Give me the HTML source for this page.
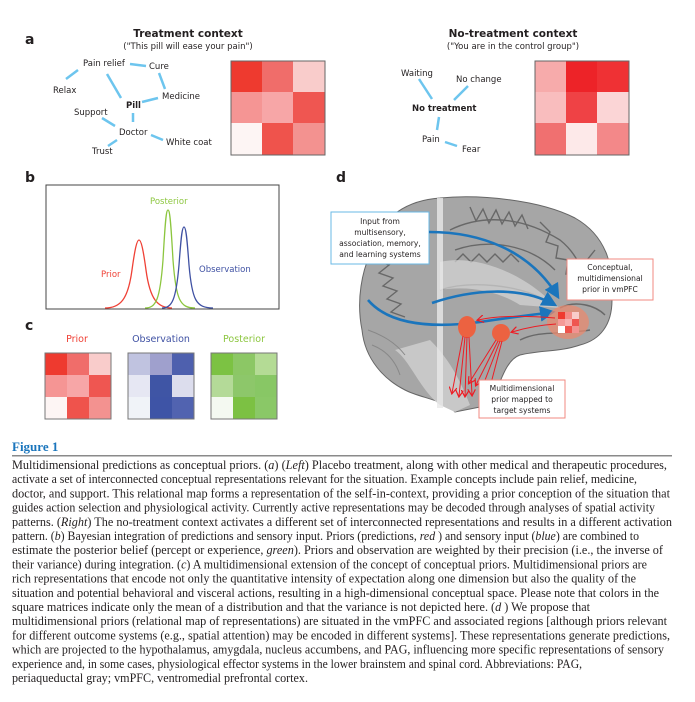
<!DOCTYPE html>
<html><head><meta charset="utf-8"><style>
html,body{margin:0;padding:0;background:#fff;}
svg{display:block;}
.s{font-family:"DejaVu Sans","Liberation Sans",sans-serif;}
.c{font-family:"Liberation Serif",serif;font-size:12.3px;fill:#231f20;}
</style></head><body>
<svg width="695" height="702" viewBox="0 0 695 702" xmlns="http://www.w3.org/2000/svg">
<defs>
<marker id="ab" markerWidth="6" markerHeight="6" refX="5" refY="3" orient="auto" markerUnits="strokeWidth"><path d="M0,0 L6,3 L0,6 z" fill="#1b75bc"/></marker>
<marker id="ar" markerWidth="8" markerHeight="8" refX="6" refY="4" orient="auto" markerUnits="strokeWidth"><path d="M0,0 L7,4 L0,8" fill="none" stroke="#ed1c24" stroke-width="1.2"/></marker>
</defs>
<g class="s">
<text x="25" y="44" font-size="14" font-weight="bold" fill="#231f20">a</text>
<text x="188" y="37" font-size="10.5" font-weight="bold" text-anchor="middle" fill="#231f20">Treatment context</text>
<text x="188" y="49" font-size="8.5" text-anchor="middle" fill="#231f20">("This pill will ease your pain")</text>
<g stroke="#6dc5ee" stroke-width="2.5">
<line x1="130" y1="64" x2="146" y2="66"/><line x1="159" y1="73" x2="165" y2="89"/>
<line x1="78" y1="70" x2="66" y2="79"/><line x1="107" y1="74" x2="121" y2="98"/>
<line x1="142" y1="102" x2="158" y2="98"/><line x1="133" y1="113" x2="133" y2="122"/>
<line x1="102" y1="118" x2="115" y2="126"/><line x1="151" y1="135" x2="163" y2="140"/>
<line x1="117" y1="140" x2="108" y2="146"/>
</g>
<g font-size="8.5" fill="#231f20">
<text x="83" y="66">Pain relief</text><text x="149" y="69">Cure</text>
<text x="53" y="93">Relax</text><text x="162" y="99">Medicine</text>
<text x="126" y="108" font-weight="bold">Pill</text><text x="74" y="115">Support</text>
<text x="119" y="135">Doctor</text><text x="166" y="145">White coat</text>
<text x="92" y="154">Trust</text>
</g>
<g transform="translate(231,61)">
<rect x="0" y="0" width="32" height="32" fill="#ee3a2f"/><rect x="31" y="0" width="32" height="32" fill="#f06d6a"/><rect x="62" y="0" width="32" height="32" fill="#f9cccb"/>
<rect x="0" y="31" width="32" height="32" fill="#f59594"/><rect x="31" y="31" width="32" height="32" fill="#f7a6a7"/><rect x="62" y="31" width="32" height="32" fill="#ef5651"/>
<rect x="0" y="62" width="32" height="32" fill="#fdf5f4"/><rect x="31" y="62" width="32" height="32" fill="#ef534c"/><rect x="62" y="62" width="32" height="32" fill="#f39290"/>
<rect x="0" y="0" width="94" height="94" fill="none" stroke="#666" stroke-width="1"/>
</g>
<text x="513" y="37" font-size="10.5" font-weight="bold" text-anchor="middle" fill="#231f20">No-treatment context</text>
<text x="513" y="49" font-size="8.5" text-anchor="middle" fill="#231f20">("You are in the control group")</text>
<g stroke="#6dc5ee" stroke-width="2.5">
<line x1="419" y1="79" x2="432" y2="99"/><line x1="468" y1="86" x2="454" y2="100"/>
<line x1="439" y1="117" x2="437" y2="130"/><line x1="445" y1="142" x2="457" y2="146"/>
</g>
<g font-size="8.5" fill="#231f20">
<text x="401" y="76">Waiting</text><text x="456" y="82">No change</text>
<text x="412" y="111" font-weight="bold">No treatment</text>
<text x="422" y="142">Pain</text><text x="462" y="152">Fear</text>
</g>
<g transform="translate(535,61)">
<rect x="0" y="0" width="32" height="32" fill="#f7abab"/><rect x="31" y="0" width="32" height="32" fill="#ed2328"/><rect x="62" y="0" width="32" height="32" fill="#ef3134"/>
<rect x="0" y="31" width="32" height="32" fill="#f9bdbe"/><rect x="31" y="31" width="32" height="32" fill="#ef4245"/><rect x="62" y="31" width="32" height="32" fill="#fbd5d6"/>
<rect x="0" y="62" width="32" height="32" fill="#f07070"/><rect x="31" y="62" width="32" height="32" fill="#fde9e9"/><rect x="62" y="62" width="32" height="32" fill="#f38889"/>
<rect x="0" y="0" width="94" height="94" fill="none" stroke="#666" stroke-width="1"/>
</g>
<text x="25" y="182" font-size="14" font-weight="bold" fill="#231f20">b</text>
<rect x="46" y="185" width="233" height="124" fill="none" stroke="#444" stroke-width="1"/>
<path fill="none" stroke="#ef4136" stroke-width="1.3" d="M105,308 C120,308 128,300 132,270 C135,248 137,240 139,240 C141,240 143,248 146,270 C150,300 158,308 172,308"/>
<path fill="none" stroke="#8cc63f" stroke-width="1.3" d="M145,308 C156,308 160,300 163,260 C165,225 166,210 168,210 C170,210 171,225 173,260 C176,300 180,308 195,308"/>
<path fill="none" stroke="#3f51a3" stroke-width="1.3" d="M162,308 C172,308 176,300 179,265 C181,238 182,227 184,227 C186,227 187,238 189,265 C192,300 196,308 213,308"/>
<text x="150" y="204" font-size="8.5" fill="#8cc63f">Posterior</text>
<text x="101" y="277" font-size="8.5" fill="#ef4136">Prior</text>
<text x="199" y="272" font-size="8.5" fill="#3f51a3">Observation</text>
<text x="25" y="330" font-size="14" font-weight="bold" fill="#231f20">c</text>
<text x="77" y="342" font-size="9.5" text-anchor="middle" fill="#ef4136">Prior</text>
<text x="161" y="342" font-size="9.5" text-anchor="middle" fill="#3f51a3">Observation</text>
<text x="244" y="342" font-size="9.5" text-anchor="middle" fill="#8cc63f">Posterior</text>
<g transform="translate(45,353)">
<rect x="0" y="0" width="23" height="23" fill="#ee3a2f"/><rect x="22" y="0" width="23" height="23" fill="#f06d6a"/><rect x="44" y="0" width="22" height="23" fill="#f9cccb"/>
<rect x="0" y="22" width="23" height="23" fill="#f59594"/><rect x="22" y="22" width="23" height="23" fill="#f7a6a7"/><rect x="44" y="22" width="22" height="23" fill="#ef5651"/>
<rect x="0" y="44" width="23" height="22" fill="#fdf5f4"/><rect x="22" y="44" width="23" height="22" fill="#ef534c"/><rect x="44" y="44" width="22" height="22" fill="#f39290"/>
<rect width="66" height="66" fill="none" stroke="#777"/></g>
<g transform="translate(128,353)">
<rect x="0" y="0" width="23" height="23" fill="#c0c3e0"/><rect x="22" y="0" width="23" height="23" fill="#9fa0cd"/><rect x="44" y="0" width="22" height="23" fill="#4e60ae"/>
<rect x="0" y="22" width="23" height="23" fill="#e6e7f3"/><rect x="22" y="22" width="23" height="23" fill="#3f55a5"/><rect x="44" y="22" width="22" height="23" fill="#dcdded"/>
<rect x="0" y="44" width="23" height="22" fill="#f0f3f8"/><rect x="22" y="44" width="23" height="22" fill="#3e54a6"/><rect x="44" y="44" width="22" height="22" fill="#5163b0"/>
<rect width="66" height="66" fill="none" stroke="#777"/></g>
<g transform="translate(211,353)">
<rect x="0" y="0" width="23" height="23" fill="#7cc243"/><rect x="22" y="0" width="23" height="23" fill="#8cc765"/><rect x="44" y="0" width="22" height="23" fill="#b4db95"/>
<rect x="0" y="22" width="23" height="23" fill="#b4da98"/><rect x="22" y="22" width="23" height="23" fill="#8dc76a"/><rect x="44" y="22" width="22" height="23" fill="#88c765"/>
<rect x="0" y="44" width="23" height="22" fill="#f4f9f1"/><rect x="22" y="44" width="23" height="22" fill="#7cc143"/><rect x="44" y="44" width="22" height="22" fill="#8ac867"/>
<rect width="66" height="66" fill="none" stroke="#777"/></g>
<text x="336" y="182" font-size="14" font-weight="bold" fill="#231f20">d</text>
<path d="M372,250 C380,215 410,200 440,198 C480,194 540,200 575,218 C605,235 615,265 612,300 C612,325 600,340 580,345 C560,352 540,350 520,355 C505,360 500,385 490,405 L455,412 C445,400 420,398 405,390 C385,380 365,360 362,330 C356,300 362,270 372,250 Z" fill="#a6a6a6" stroke="#666" stroke-width="1"/>
<g fill="none" stroke="#5e5e5e" stroke-width="1.4" opacity="0.85">
<path d="M450,230 C480,215 520,215 560,240 C575,252 585,270 585,290"/>
<path d="M455,250 C490,238 530,245 555,270"/>
<path d="M440,290 C470,280 520,285 545,300"/>
<path d="M470,207 l6,14 l7,-12 l6,14 l7,-13 l6,14 l7,-12 l6,14 l7,-11 l6,14"/>
<path d="M540,222 l10,10 l-4,10 l12,4 l-2,12 l12,2 l-2,14 l10,0"/>
<path d="M455,262 l8,-8 l8,8 l8,-8 l8,8 l8,-8 l8,8 l8,-8 l8,8"/>
<path d="M375,260 l14,5 l-10,8 l14,5 l-10,8 l14,5 l-10,8 l14,5 l-10,8 l14,5"/>
<path d="M410,215 l6,15 l6,-12 l-4,20 l10,-6 l-4,18"/>
<path d="M395,230 l8,8 l-6,8 l10,6 l-6,10"/>
<path d="M595,250 l-8,10 l10,6 l-10,8 l10,8"/>
<path d="M520,340 C540,330 560,335 590,330"/>
<path d="M560,308 C575,300 595,305 605,315"/>
</g>
<path d="M440,262 C470,255 510,268 540,292 C550,300 555,305 560,308 L520,305 C500,292 470,285 440,290 Z" fill="#d6d6d6" opacity="0.7"/>
<path d="M395,350 C410,360 420,390 440,405 L455,412 L470,405 C460,380 450,360 430,340 Z" fill="#c8c8c8"/>
<g fill="none" stroke="#888" stroke-width="1"><path d="M372,345 C385,350 395,360 400,375"/><path d="M368,330 C382,335 395,342 405,355"/></g>
<rect x="437" y="198" width="6" height="210" fill="#e8e8e8" opacity="0.8"/>
<rect x="331" y="212" width="98" height="52" fill="#fff" stroke="#6ab8e6" stroke-width="1"/>
<g font-size="7.6" fill="#231f20" text-anchor="middle">
<text x="380" y="224">Input from</text><text x="380" y="235">multisensory,</text>
<text x="380" y="246">association, memory,</text><text x="380" y="257">and learning systems</text>
</g>
<g fill="none" stroke="#1b75bc" stroke-width="2.6">
<path d="M429,232 C480,232 530,250 558,297" marker-end="url(#ab)"/>
<path d="M432,303 C470,290 520,285 555,305" marker-end="url(#ab)"/>
<path d="M368,300 C385,320 420,330 480,322 C520,316 540,314 553,312" marker-end="url(#ab)"/>
</g>
<ellipse cx="568" cy="322" rx="21" ry="17" fill="#e8896f" opacity="0.75"/>
<g transform="translate(558,312)">
<rect width="7" height="7" fill="#ef3a2f"/><rect x="7" width="7" height="7" fill="#f38a85"/><rect x="14" width="7" height="7" fill="#f9cccb"/>
<rect y="7" width="7" height="7" fill="#f49a98"/><rect x="7" y="7" width="7" height="7" fill="#f7b0b0"/><rect x="14" y="7" width="7" height="7" fill="#ef5651"/>
<rect y="14" width="7" height="7" fill="#fff"/><rect x="7" y="14" width="7" height="7" fill="#ef534c"/><rect x="14" y="14" width="7" height="7" fill="#f39290"/>
</g>
<ellipse cx="467" cy="327" rx="9" ry="11" fill="#ec6241"/>
<ellipse cx="501" cy="333" rx="9" ry="9" fill="#ec6241"/>
<g fill="none" stroke="#ed1c24" stroke-width="1">
<path d="M555,318 C530,316 500,315 478,320" marker-end="url(#ar)"/>
<path d="M556,324 C540,325 525,328 512,332" marker-end="url(#ar)"/>
<path d="M463,336 L452,393" marker-end="url(#ar)"/><path d="M465,337 L459,396" marker-end="url(#ar)"/>
<path d="M467,337 L465,396" marker-end="url(#ar)"/><path d="M469,337 L472,395" marker-end="url(#ar)"/>
<path d="M496,340 L469,383" marker-end="url(#ar)"/><path d="M498,341 L476,385" marker-end="url(#ar)"/>
<path d="M500,341 L482,388" marker-end="url(#ar)"/><path d="M502,341 L489,391" marker-end="url(#ar)"/>
</g>
<rect x="567" y="259" width="86" height="41" fill="#fff" stroke="#f08a80" stroke-width="1"/>
<g font-size="7.6" fill="#231f20" text-anchor="middle">
<text x="610" y="270">Conceptual,</text><text x="610" y="281">multidimensional</text><text x="610" y="292">prior in vmPFC</text>
</g>
<rect x="479" y="380" width="86" height="38" fill="#fff" stroke="#f08a80" stroke-width="1"/>
<g font-size="7.6" fill="#231f20" text-anchor="middle">
<text x="522" y="391">Multidimensional</text><text x="522" y="402">prior mapped to</text><text x="522" y="413">target systems</text>
</g>
</g>
<text x="12" y="451" font-family="Liberation Serif,serif" font-size="13" font-weight="bold" fill="#1a75bc">Figure 1</text>
<rect x="12" y="455" width="660" height="1.5" fill="#8a8a8a"/>
<g class="c">
<text x="12" y="469" textLength="655" lengthAdjust="spacingAndGlyphs">Multidimensional predictions as conceptual priors. (<tspan font-style="italic">a</tspan>) (<tspan font-style="italic">Left</tspan>) Placebo treatment, along with other medical and therapeutic procedures,</text>
<text x="12" y="483.2" textLength="625" lengthAdjust="spacingAndGlyphs">activate a set of interconnected conceptual representations relevant for the situation. Example concepts include pain relief, medicine,</text>
<text x="12" y="497.4" textLength="658" lengthAdjust="spacingAndGlyphs">doctor, and support. This relational map forms a representation of the self-in-context, providing a prior conception of the situation that</text>
<text x="12" y="511.6" textLength="643" lengthAdjust="spacingAndGlyphs">guides action selection and physiological activity. Currently active representations may be decoded through analyses of spatial activity</text>
<text x="12" y="525.8" textLength="660" lengthAdjust="spacingAndGlyphs">patterns. (<tspan font-style="italic">Right</tspan>) The no-treatment context activates a different set of interconnected representations and results in a different activation</text>
<text x="12" y="540" textLength="627" lengthAdjust="spacingAndGlyphs">pattern. (<tspan font-style="italic">b</tspan>) Bayesian integration of predictions and sensory input. Priors (predictions, <tspan font-style="italic">red</tspan> ) and sensory input (<tspan font-style="italic">blue</tspan>) are combined to</text>
<text x="12" y="554.2" textLength="651" lengthAdjust="spacingAndGlyphs">estimate the posterior belief (percept or experience, <tspan font-style="italic">green</tspan>). Priors and observation are weighted by their precision (i.e., the inverse of</text>
<text x="12" y="568.4" textLength="635" lengthAdjust="spacingAndGlyphs">their variance) during integration. (<tspan font-style="italic">c</tspan>) A multidimensional extension of the concept of conceptual priors. Multidimensional priors are</text>
<text x="12" y="582.6" textLength="624" lengthAdjust="spacingAndGlyphs">rich representations that encode not only the quantitative intensity of expectation along one dimension but also the quality of the</text>
<text x="12" y="596.8" textLength="647" lengthAdjust="spacingAndGlyphs">situation and potential behavioral and visceral actions, resulting in a high-dimensional conceptual space. Please note that colors in the</text>
<text x="12" y="611" textLength="578" lengthAdjust="spacingAndGlyphs">square matrices indicate only the mean of a distribution and that the variance is not depicted here. (<tspan font-style="italic">d</tspan> ) We propose that</text>
<text x="12" y="625.2" textLength="655" lengthAdjust="spacingAndGlyphs">multidimensional priors (relational map of representations) are situated in the vmPFC and associated regions [although priors relevant</text>
<text x="12" y="639.4" textLength="658" lengthAdjust="spacingAndGlyphs">for different outcome systems (e.g., spatial attention) may be encoded in different systems]. These representations generate predictions,</text>
<text x="12" y="653.6" textLength="652" lengthAdjust="spacingAndGlyphs">which are projected to the hypothalamus, amygdala, nucleus accumbens, and PAG, influencing more specific representations of sensory</text>
<text x="12" y="667.8" textLength="570" lengthAdjust="spacingAndGlyphs">experience and, in some cases, physiological effector systems in the lower brainstem and spinal cord. Abbreviations: PAG,</text>
<text x="12" y="682" textLength="296" lengthAdjust="spacingAndGlyphs">periaqueductal gray; vmPFC, ventromedial prefrontal cortex.</text>
</g>
</svg>
</body></html>
